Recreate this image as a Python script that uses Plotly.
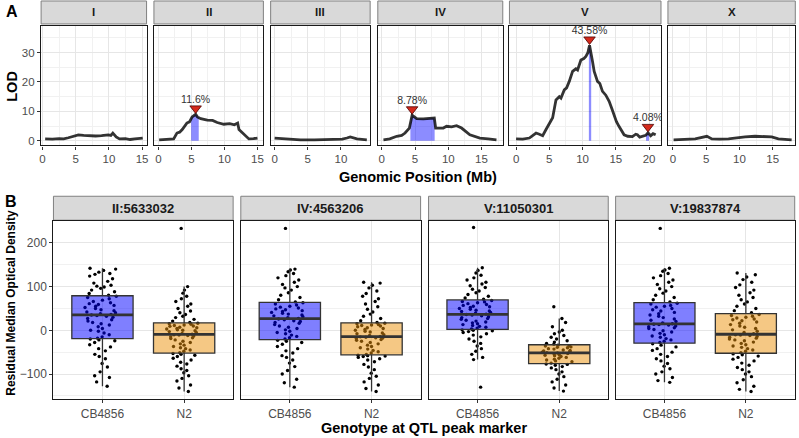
import numpy as np
import plotly.graph_objects as go

# ---------------- panel A: LOD scan per chromosome ----------------
chroms = ["I", "II", "III", "IV", "V", "X"]

chrI_pos = [0.4, 1.5, 2.5, 3.2, 3.9, 4.9, 5.4, 6.2, 6.9, 8.0, 8.9, 9.9, 10.3, 10.6, 11.1, 11.6, 12.5, 13.2, 13.9, 15.1]
chrI_lod = [0.6, 0.5, 0.7, 0.6, 1.0, 1.7, 2.0, 1.8, 1.7, 1.6, 1.7, 2.0, 1.8, 2.6, 1.3, 0.6, 0.7, 0.4, 0.6, 0.9]

chrII_pos = [0.1, 1.2, 2.3, 2.8, 3.2, 3.6, 4.3, 4.7, 5.1, 5.63, 5.9, 6.4, 7.4, 8.2, 8.9, 9.9, 10.8, 11.5, 12.0,
             12.2, 13.0, 13.7, 14.4, 15.0]
chrII_lod = [0.3, 0.4, 0.6, 2.6, 2.9, 3.8, 6.0, 6.4, 8.1, 9.0, 8.1, 7.5, 7.0, 6.9, 6.2, 5.6, 5.8, 5.4, 6.0,
             3.8, 2.0, 0.6, 0.7, 0.9]

chrIII_pos = [0.0, 1.4, 2.5, 3.9, 6.0, 8.9, 10.2, 10.9, 11.4, 12.4, 13.2, 13.9]
chrIII_lod = [0.9, 0.6, 0.5, 0.3, 0.3, 0.3, 0.5, 0.9, 1.3, 0.6, 0.5, 0.3]

chrIV_pos = [0.25, 1.2, 2.25, 3.0, 3.5, 4.15, 4.56, 5.0, 5.25, 6.25, 7.0, 7.9, 8.1, 9.25, 9.75, 10.5, 11.25,
             12.0, 13.25, 14.0, 14.75, 16.0, 17.25]
chrIV_lod = [0.3, 0.6, 1.5, 1.8, 2.6, 4.3, 8.7, 7.8, 7.5, 7.4, 7.6, 7.7, 4.3, 4.3, 4.9, 4.7, 5.1,
             4.3, 2.0, 1.4, 0.9, 0.6, 0.3]

chrV_pos = [0.0, 1.0, 2.0, 2.6, 3.0, 3.5, 4.0, 4.5, 5.0, 5.5, 5.8, 6.0, 6.5, 6.75, 7.25, 7.6, 8.0, 8.5, 9.0,
            9.25, 9.75, 10.2, 10.5, 10.8, 11.05, 11.25, 11.5, 11.75, 12.25, 12.6, 13.0, 13.5, 14.0, 14.4,
            14.75, 15.1, 15.5, 16.25, 16.8, 17.5, 18.0, 18.25, 18.6, 19.0, 19.5, 19.84, 20.25, 20.6, 21.0]
chrV_lod = [0.6, 0.5, 0.9, 1.8, 2.6, 2.2, 1.7, 3.8, 5.6, 7.8, 11.5, 13.9, 15.0, 14.5, 17.3, 18.0, 20.2, 23.6, 24.5,
            24.1, 27.5, 28.0, 28.7, 30.0, 32.5, 29.3, 27.0, 23.6, 20.2, 19.5, 16.8, 15.5, 13.4, 11.0,
            8.8, 6.5, 4.8, 2.0, 1.5, 1.4, 2.2, 2.0, 1.2, 1.4, 1.8, 2.7, 1.7, 2.4, 2.0]

chrX_pos = [0.1, 1.5, 3.35, 5.1, 5.85, 7.0, 8.35, 10.85, 12.35, 14.85, 15.85, 17.85]
chrX_lod = [0.3, 0.4, 0.6, 1.5, 0.6, 0.5, 0.6, 1.3, 1.5, 1.3, 0.6, 0.3]

lod_pos = {"I": chrI_pos, "II": chrII_pos, "III": chrIII_pos, "IV": chrIV_pos, "V": chrV_pos, "X": chrX_pos}
lod_val = {"I": chrI_lod, "II": chrII_lod, "III": chrIII_lod, "IV": chrIV_lod, "V": chrV_lod, "X": chrX_lod}

# QTL peaks
peak_chrom = ["II", "IV", "V", "V"]
peak_pos = [5.63, 4.56, 11.05, 19.84]
peak_lod = [9.0, 8.7, 32.5, 2.7]
peak_var = ["11.6%", "8.78%", "43.58%", "4.08%"]
ci_left = [4.95, 4.3, 10.95, 19.55]
ci_right = [6.1, 7.95, 11.3, 20.0]

# ---------------- panel B: phenotype by genotype at peak marker ----------------
markers = ["II:5633032", "IV:4563206", "V:11050301", "V:19837874"]
genotypes = ["CB4856", "N2"]

ii_cb = [-128, -118, -108, -104, -95, -84, -76, -65, -60, -55, -47, -42, -38, -33, -28, -24, -22, -20,
         -18, -15, -10, -6, -2, 0, 4, 8, 12, 15, 18, 21, 24, 27, 30, 32, 34, 35,
         36, 38, 40, 42, 45, 47, 50, 52, 55, 57, 59, 61, 63, 66, 69, 72, 75, 78,
         80, 84, 88, 92, 96, 99, 101, 103, 108, 112, 118, 124, 128, 130, 133, 137, 140, 142]
ii_n2 = [-140, -132, -125, -116, -110, -104, -97, -92, -88, -82, -77, -73, -68, -64, -60, -57, -55, -53,
         -51, -48, -45, -42, -40, -37, -34, -31, -28, -25, -22, -19, -17, -15, -13, -12, -11, -10,
         -9, -7, -5, -3, -1, 0, 1, 3, 4, 6, 7, 9, 10, 11, 12, 14, 15, 16,
         18, 21, 25, 29, 32, 36, 40, 44, 50, 55, 60, 66, 72, 78, 85, 92, 100, 233]
iv_cb = [-130, -120, -112, -100, -92, -83, -75, -68, -62, -58, -52, -47, -42, -37, -32, -28, -25, -23,
         -20, -17, -14, -11, -8, -5, -2, 1, 4, 7, 10, 13, 16, 18, 20, 22, 24, 26,
         27, 29, 31, 33, 35, 37, 39, 41, 43, 45, 47, 49, 51, 53, 55, 58, 60, 63,
         65, 70, 75, 80, 86, 92, 97, 100, 105, 110, 115, 120, 125, 130, 134, 138, 140, 233]
iv_n2 = [-140, -133, -125, -118, -110, -105, -98, -90, -84, -78, -72, -68, -65, -62, -60, -59, -58, -57,
         -55, -52, -49, -46, -43, -40, -37, -34, -31, -28, -25, -23, -21, -19, -18, -17, -16, -15,
         -14, -12, -10, -8, -6, -4, -2, 0, 2, 4, 6, 8, 10, 11, 12, 13, 15, 16,
         18, 22, 27, 32, 37, 42, 48, 54, 60, 66, 72, 78, 84, 90, 97, 103, 108, 110]
v11_cb = [-130, -67, -62, -55, -48, -42, -36, -30, -25, -20, -15, -11, -8, -5, -3, -1, 0, 1,
          3, 5, 7, 9, 11, 13, 15, 17, 19, 21, 23, 25, 27, 29, 31, 33, 35, 36,
          37, 39, 41, 43, 44, 46, 48, 50, 52, 54, 55, 57, 59, 61, 63, 65, 66, 68,
          71, 74, 78, 82, 86, 90, 94, 98, 102, 106, 110, 115, 120, 126, 131, 137, 143, 235]
v11_n2 = [-139, -132, -125, -118, -112, -106, -100, -95, -90, -86, -83, -80, -78, -77,
          -75, -72, -70, -68, -66, -64, -62, -60, -58, -57, -56, -54, -53, -52,
          -51, -50, -48, -47, -46, -45, -43, -42, -40, -39, -38, -36, -35, -34,
          -32, -30, -27, -24, -20, -16, -12, -8, -4, 0, 8, 18, 27, 54]
v19_cb = [-119, -115, -108, -100, -95, -88, -82, -76, -70, -65, -60, -55, -50, -46, -42, -38, -34, -31,
          -28, -25, -22, -19, -16, -13, -10, -7, -4, -1, 2, 4, 6, 8, 10, 12, 13, 14,
          15, 17, 20, 23, 26, 29, 32, 35, 38, 41, 44, 47, 50, 53, 55, 57, 60, 62,
          65, 70, 75, 80, 85, 90, 95, 100, 105, 110, 115, 120, 125, 130, 135, 138, 142, 233]
v19_n2 = [-140, -135, -128, -120, -113, -106, -100, -95, -90, -85, -80, -75, -70, -66, -62, -59, -56, -54,
          -51, -48, -45, -42, -39, -36, -33, -30, -27, -24, -22, -20, -18, -16, -14, -12, -11, -10,
          -8, -5, -2, 1, 4, 7, 10, 13, 16, 19, 22, 24, 26, 28, 30, 32, 34, 36,
          40, 45, 50, 55, 60, 65, 70, 75, 80, 86, 92, 98, 104, 110, 116, 122, 127, 131]

pheno = [[ii_cb, ii_n2], [iv_cb, iv_n2], [v11_cb, v11_n2], [v19_cb, v19_n2]]

# ---------------- layout geometry (pixels) ----------------
W, H = 799, 438
FONT = "Liberation Sans, Arial, sans-serif"

a_cols = [(39.3, 145.3), (152.7, 262.7), (270, 370), (377.7, 503.3), (510, 662.3), (669.3, 797.3)]
a_ranges = [(-0.21, 15.68), (-0.69, 15.9), (-0.6, 14.4), (-0.6, 18.2), (-1.0, 21.8), (-0.75, 18.4)]
a_top, a_bot = 26, 145.7
a_strip = (1, 24)

b_cols = [(51.7, 232.3), (240, 420.7), (428.7, 609.3), (616.7, 796.7)]
b_top, b_bot = 221.5, 400
b_strip = (196.7, 220.7)

box_fill = ["rgba(0,0,255,0.5)", "rgba(236,146,10,0.5)"]
GRID = "#E6E6E6"
MINOR = "#F1F1F1"


def fx(a, b):
    return [a / W, b / W]


def fy(t, b):
    return [1 - b / H, 1 - t / H]


fig = go.Figure()
layout = {}
shapes = []
annotations = []


def axis_common(size):
    return dict(showline=True, mirror=True, linecolor="#1a1a1a", linewidth=1.3,
                zeroline=False, showgrid=True, gridcolor=GRID, gridwidth=1,
                tickcolor="#333333", ticklen=3, tickwidth=1,
                tickfont=dict(family=FONT, size=size, color="#4D4D4D"))


def strip(x0, x1, y0, y1, text, size):
    shapes.append(dict(type="rect", xref="paper", yref="paper",
                       x0=x0 / W, x1=x1 / W, y0=1 - y1 / H, y1=1 - y0 / H,
                       fillcolor="#D9D9D9", line=dict(color="#808080", width=1), layer="below"))
    annotations.append(dict(xref="paper", yref="paper", x=(x0 + x1) / 2 / W, y=1 - (y0 + y1) / 2 / H,
                            text="<b>%s</b>" % text, showarrow=False, xanchor="center", yanchor="middle",
                            font=dict(family=FONT, size=size, color="#1A1A1A")))


def label(x, y, text, size, angle=0):
    annotations.append(dict(xref="paper", yref="paper", x=x / W, y=1 - y / H, text=text,
                            showarrow=False, xanchor="center", yanchor="middle", textangle=angle,
                            font=dict(family=FONT, size=size, color="black")))


# ---- panel A ----
for i, c in enumerate(chroms):
    n = i + 1
    xa = axis_common(11.5)
    xa.update(domain=fx(*a_cols[i]), range=list(a_ranges[i]), anchor="y%d" % n,
              tickmode="linear", tick0=0, dtick=5, ticks="outside",
              minor=dict(tick0=0, dtick=2.5, showgrid=True, gridcolor=MINOR, gridwidth=0.6, ticks=""))
    ya = axis_common(11.5)
    ya.update(domain=fy(a_top, a_bot), range=[-1.6, 39.1], anchor="x%d" % n,
              tickmode="linear", tick0=0, dtick=10,
              ticks="outside" if i == 0 else "", showticklabels=(i == 0),
              minor=dict(tick0=0, dtick=5, showgrid=True, gridcolor=MINOR, gridwidth=0.6, ticks=""))
    layout["xaxis%s" % ("" if n == 1 else n)] = xa
    layout["yaxis%s" % ("" if n == 1 else n)] = ya
    strip(a_cols[i][0], a_cols[i][1], a_strip[0], a_strip[1], c, 11.5)

    # confidence interval fills for peaks on this chromosome
    pos = np.array(lod_pos[c])
    val = np.array(lod_val[c])
    for k, pc in enumerate(peak_chrom):
        if pc != c:
            continue
        lo, hi = ci_left[k], ci_right[k]
        inside = (pos > lo) & (pos < hi)
        xs = [lo] + pos[inside].tolist() + [hi]
        ys = [float(np.interp(lo, pos, val))] + val[inside].tolist() + [float(np.interp(hi, pos, val))]
        fig.add_trace(go.Scatter(x=xs, y=ys, mode="lines", fill="tozeroy",
                                 fillcolor="rgba(0,0,255,0.45)", line=dict(width=0),
                                 xaxis="x%d" % n, yaxis="y%d" % n, showlegend=False, hoverinfo="skip"))

    fig.add_trace(go.Scatter(x=lod_pos[c], y=lod_val[c], mode="lines",
                             line=dict(color="rgba(0,0,0,0.8)", width=2.8),
                             xaxis="x%d" % n, yaxis="y%d" % n, showlegend=False, hoverinfo="skip"))

    idx = [k for k, pc in enumerate(peak_chrom) if pc == c]
    if idx:
        fig.add_trace(go.Scatter(x=[peak_pos[k] for k in idx], y=[peak_lod[k] + 2.0 for k in idx],
                                 mode="markers",
                                 marker=dict(symbol="triangle-down", size=10, color="#D42A1C",
                                             line=dict(color="#4a0000", width=0.8)),
                                 xaxis="x%d" % n, yaxis="y%d" % n, showlegend=False, hoverinfo="skip"))
        fig.add_trace(go.Scatter(x=[peak_pos[k] for k in idx], y=[peak_lod[k] + 4.8 for k in idx],
                                 mode="text", text=[peak_var[k] for k in idx],
                                 textfont=dict(family=FONT, size=10.5, color="#333333"),
                                 xaxis="x%d" % n, yaxis="y%d" % n, showlegend=False, hoverinfo="skip"))

# ---- panel B ----
for j, m in enumerate(markers):
    n = 7 + j
    xa = axis_common(12)
    xa.update(domain=fx(*b_cols[j]), range=[-0.6, 1.6], anchor="y%d" % n,
              tickmode="array", tickvals=[0, 1], ticktext=genotypes, ticks="outside")
    ya = axis_common(12)
    ya.update(domain=fy(b_top, b_bot), range=[-157.3, 250], anchor="x%d" % n,
              tickmode="linear", tick0=0, dtick=100,
              ticks="outside" if j == 0 else "", showticklabels=(j == 0),
              minor=dict(tick0=0, dtick=50, showgrid=True, gridcolor=MINOR, gridwidth=0.6, ticks=""))
    layout["xaxis%d" % n] = xa
    layout["yaxis%d" % n] = ya
    strip(b_cols[j][0], b_cols[j][1], b_strip[0], b_strip[1], m, 13)

    for g in range(2):
        vals = pheno[j][g]
        # jittered raw points first, box drawn over them
        fig.add_trace(go.Box(x=[g] * len(vals), y=vals, boxpoints="all", jitter=0.62, pointpos=0,
                             marker=dict(color="black", size=3.4),
                             line=dict(width=0, color="rgba(0,0,0,0)"), fillcolor="rgba(0,0,0,0)",
                             width=0.75, whiskerwidth=0,
                             xaxis="x%d" % n, yaxis="y%d" % n, showlegend=False, hoverinfo="skip"))
        # box with 1.5*IQR whiskers; its own outlier markers are hidden
        fig.add_trace(go.Box(x=[g] * len(vals), y=vals, boxpoints="outliers",
                             marker=dict(opacity=0, size=1),
                             fillcolor=box_fill[g], line=dict(color="#333333", width=1.3),
                             width=0.75, whiskerwidth=0,
                             xaxis="x%d" % n, yaxis="y%d" % n, showlegend=False, hoverinfo="skip"))
        med = float(np.median(vals))
        fig.add_trace(go.Scatter(x=[g - 0.375, g + 0.375], y=[med, med], mode="lines",
                                 line=dict(color="#333333", width=2.8),
                                 xaxis="x%d" % n, yaxis="y%d" % n, showlegend=False, hoverinfo="skip"))

# titles and panel letters
label(10, 86, "<b>LOD</b>", 14.5, -90)
label(418.5, 177.7, "<b>Genomic Position (Mb)</b>", 14.5)
label(9, 303.5, "<b>Residual Median Optical Density</b>", 12, -90)
label(424.5, 429, "<b>Genotype at QTL peak marker</b>", 14.5)
label(10, 12, "<b>A</b>", 16)
label(9, 202, "<b>B</b>", 16)

fig.update_layout(**layout)
fig.update_layout(width=W, height=H, margin=dict(l=0, r=0, t=0, b=0),
                  plot_bgcolor="white", paper_bgcolor="white",
                  boxmode="overlay", shapes=shapes, annotations=annotations,
                  font=dict(family=FONT), showlegend=False)

# the page body has a default 8px margin; drop it so the figure sits at the window origin
fig.write_html("out.html", config={"displayModeBar": False},
               post_script="document.body.style.margin='0px';")
